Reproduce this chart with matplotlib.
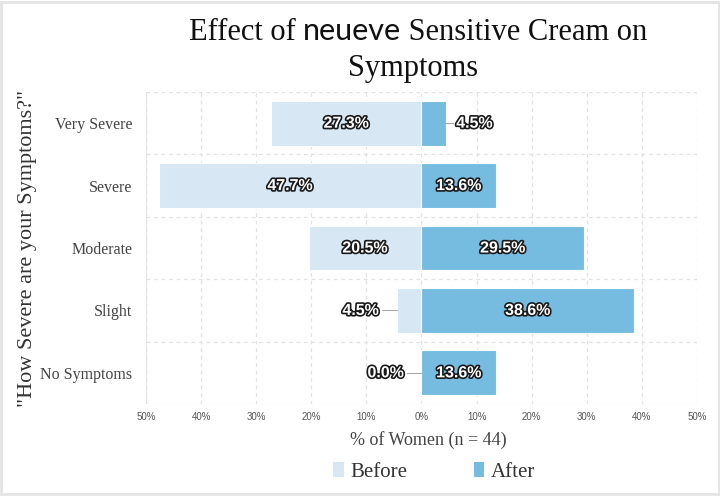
import matplotlib
matplotlib.use("Agg")
import matplotlib.pyplot as plt
import matplotlib.patheffects as pe
from matplotlib.patches import Patch, Rectangle
import numpy as np

categories = ["Very Severe", "Severe", "Moderate", "Slight", "No Symptoms"]
before = [27.3, 47.7, 20.5, 4.5, 0.0]
after = [4.5, 13.6, 29.5, 38.6, 13.6]
xticks = [-50, -40, -30, -20, -10, 0, 10, 20, 30, 40, 50]

before_color = "#d7e8f4"
after_color = "#76bce0"
serif = "Liberation Serif"
sans = "Liberation Sans"

fig = plt.figure(figsize=(7.2, 4.96), dpi=100)
ax = fig.add_axes([146 / 720, 1 - 404 / 496, 551 / 720, 312 / 496])

y = np.arange(len(categories))[::-1]
ax.barh(y, [-b for b in before], height=0.72, color=before_color, edgecolor="white", linewidth=0.8)
ax.barh(y, after, height=0.72, color=after_color, edgecolor="white", linewidth=0.8)

ax.set_xlim(-50, 50)
ax.set_ylim(-0.5, len(categories) - 0.5)
ax.set_xticks(xticks)
ax.set_xticklabels([f"{abs(t)}%" for t in xticks], fontsize=7, color="#555555", family=sans)
ax.set_yticks(y)
ax.set_yticklabels(categories, fontsize=11.5, color="#444444", family=serif)
ax.set_yticks(np.arange(len(categories) + 1) - 0.5, minor=True)
ax.tick_params(axis="both", which="both", length=0)
ax.tick_params(axis="y", pad=10)
ax.tick_params(axis="x", pad=6)
ax.grid(True, which="major", axis="x", linestyle=(0, (3, 3)), color="#e2e2e2", linewidth=0.9)
ax.grid(True, which="minor", axis="y", linestyle=(0, (3, 3)), color="#e2e2e2", linewidth=0.9)
ax.set_axisbelow(True)
for s in ax.spines.values():
    s.set_visible(False)
ax.axvline(-50, color="#e8e8e8", linewidth=0.8, zorder=0)

stroke = [pe.withStroke(linewidth=2.4, foreground="#1a1a1a")]
lbl = dict(color="white", fontsize=11.5, fontweight="bold", family=sans, va="center", path_effects=stroke)

for yi, b, a in zip(y, before, after):
    if b >= 8:
        ax.text(-b / 2, yi, f"{b:.1f}%", ha="center", **lbl)
    else:
        ax.plot([-b - 2.6, -b], [yi, yi], color="#aaaaaa", linewidth=0.8)
        ax.text(-b - 3.2, yi, f"{b:.1f}%", ha="right", **lbl)
    if a >= 8:
        ax.text(a / 2, yi, f"{a:.1f}%", ha="center", **lbl)
    else:
        ax.plot([a, a + 1.3], [yi, yi], color="#aaaaaa", linewidth=0.8)
        ax.text(a + 1.8, yi, f"{a:.1f}%", ha="left", **lbl)

ax.set_ylabel('"How Severe are your Symptoms?"', fontsize=16, color="#333333", family=serif, labelpad=2)
fig.text(428 / 720, 1 - 440 / 496, "% of Women (n = 44)", ha="center", va="center",
         fontsize=13, color="#444444", family=serif)

handles = [Patch(facecolor=before_color, label="Before"), Patch(facecolor=after_color, label="After")]
fig.legend(handles=handles, loc="center", bbox_to_anchor=(434 / 720, 1 - 472 / 496), ncol=2, frameon=False,
           prop={"family": serif, "size": 15}, handlelength=0.5, handleheight=0.75, handletextpad=0.3,
           columnspacing=3.2, labelcolor="#333333")

# title: "neueve" is a logo in a sans face
renderer = fig.canvas.get_renderer()
segments = [("Effect of ", serif, "normal"), ("neueve", "Lato", "normal"), (" Sensitive Cream on", serif, "normal")]
texts = []
for s, fam, w in segments:
    texts.append(fig.text(0, 1 - 40 / 496, s, fontsize=22, family=fam, fontweight=w, va="baseline", color="#111111"))
widths = [t.get_window_extent(renderer).width / fig.bbox.width for t in texts]
x0 = 418 / 720 - sum(widths) / 2
for t, wd in zip(texts, widths):
    t.set_x(x0)
    x0 += wd
fig.text(413 / 720, 1 - 76 / 496, "Symptoms", fontsize=22, family=serif, va="baseline", ha="center", color="#111111")

fig.patches.append(Rectangle((0.002, 0.004), 0.996, 0.992, transform=fig.transFigure, fill=False,
                             edgecolor="#e4e4e4", linewidth=2))

fig.savefig("out.png", dpi=100)
